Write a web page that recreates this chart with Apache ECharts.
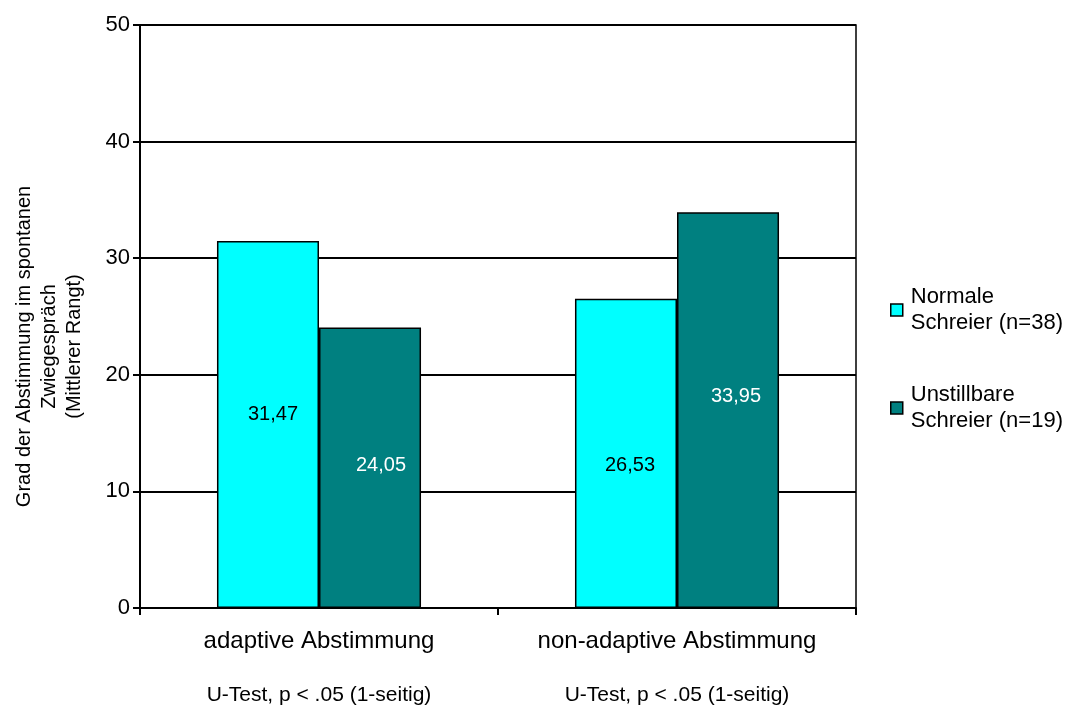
<!DOCTYPE html>
<html>
<head>
<meta charset="utf-8">
<script src="https://cdn.jsdelivr.net/npm/echarts@6/dist/echarts.min.js"></script>
<style>
  html, body { margin: 0; padding: 0; background: #fff; }
  #chart { width: 1069px; height: 707px; }
</style>
</head>
<body>
<div id="chart"></div>
<script>
// Kategorien und Testangaben unter der x-Achse
const categories = ['adaptive Abstimmung', 'non-adaptive Abstimmung'];
const testNotes = ['U-Test, p < .05 (1-seitig)', 'U-Test, p < .05 (1-seitig)'];

// Mittlere Ränge je Gruppe
const seriesNames = ['Normale\nSchreier (n=38)', 'Unstillbare\nSchreier (n=19)'];
const normale = [31.47, 26.53];
const unstillbare = [24.05, 33.95];

// Lage der Wertbeschriftungen innerhalb der Balken
const normaleLabelOffsets = [[5, -10], [4, 12]];
const unstillbareLabelOffsets = [[11, -2], [8, -14]];

const yTicks = [0, 10, 20, 30, 40, 50];

const FONT = '"Liberation Sans", Arial, sans-serif';

function fmt(v) {
  return v.toFixed(2).replace('.', ',');
}

function buildData(values, offsets) {
  return values.map((v, i) => ({
    value: v,
    label: { offset: offsets[i] }
  }));
}

const chart = echarts.init(document.getElementById('chart'), null, { renderer: 'canvas' });

chart.setOption({
  animation: false,
  backgroundColor: '#ffffff',
  textStyle: { fontFamily: FONT },
  grid: {
    left: 140, right: 213, top: 25, bottom: 99,
    show: true, borderColor: '#000', borderWidth: 1.5, backgroundColor: 'transparent'
  },
  legend: {
    orient: 'vertical',
    left: 885,
    top: 266,
    itemWidth: 12,
    itemHeight: 12,
    itemGap: 20,
    icon: 'rect',
    selectedMode: false,
    textStyle: {
      fontFamily: FONT,
      fontSize: 22,
      color: '#000',
      lineHeight: 26,
      padding: [26, 0, 0, 3]
    },
    data: seriesNames.map(n => ({ name: n, itemStyle: { borderColor: '#000', borderWidth: 1.5 } }))
  },
  xAxis: {
    type: 'category',
    data: categories,
    axisLine: { show: true, lineStyle: { color: '#000', width: 2 } },
    axisTick: { show: true, alignWithLabel: false, length: 7, lineStyle: { color: '#000', width: 2 } },
    axisLabel: {
      margin: 6,
      interval: 0,
      formatter: (val, idx) => '{a|' + val + '}\n{b|' + testNotes[idx] + '}',
      rich: {
        a: { fontFamily: FONT, fontSize: 24, color: '#000', lineHeight: 54 },
        b: { fontFamily: FONT, fontSize: 21, color: '#000', lineHeight: 54 }
      }
    },
    splitLine: { show: false }
  },
  yAxis: {
    type: 'value',
    min: yTicks[0],
    max: yTicks[yTicks.length - 1],
    interval: 10,
    name: 'Grad der Abstimmung im spontanen\nZwiegespräch\n(Mittlerer Rangt)',
    nameLocation: 'middle',
    nameGap: 53,
    nameRotate: 90,
    nameTextStyle: {
      fontFamily: FONT, fontSize: 20, color: '#000', lineHeight: 25, align: 'center',
      padding: [0, 60, 0, 0]
    },
    axisLine: { show: true, lineStyle: { color: '#000', width: 2 } },
    axisTick: { show: true, length: 7, lineStyle: { color: '#000', width: 2 } },
    axisLabel: { fontFamily: FONT, fontSize: 22, color: '#000', margin: 10 },
    splitLine: { show: true, lineStyle: { color: '#000', width: 2 } }
  },
  series: [
    {
      name: seriesNames[0],
      type: 'bar',
      data: buildData(normale, normaleLabelOffsets),
      barGap: '0%',
      barCategoryGap: '43%',
      itemStyle: { color: '#00FFFF', borderColor: '#000', borderWidth: 1.5 },
      label: {
        show: true, position: 'inside', formatter: p => fmt(p.value),
        fontFamily: FONT, fontSize: 20, color: '#000'
      }
    },
    {
      name: seriesNames[1],
      type: 'bar',
      data: buildData(unstillbare, unstillbareLabelOffsets),
      barGap: '0%',
      barCategoryGap: '43%',
      itemStyle: { color: '#008080', borderColor: '#000', borderWidth: 1.5 },
      label: {
        show: true, position: 'inside', formatter: p => fmt(p.value),
        fontFamily: FONT, fontSize: 20, color: '#fff'
      }
    }
  ]
});
</script>
</body>
</html>
